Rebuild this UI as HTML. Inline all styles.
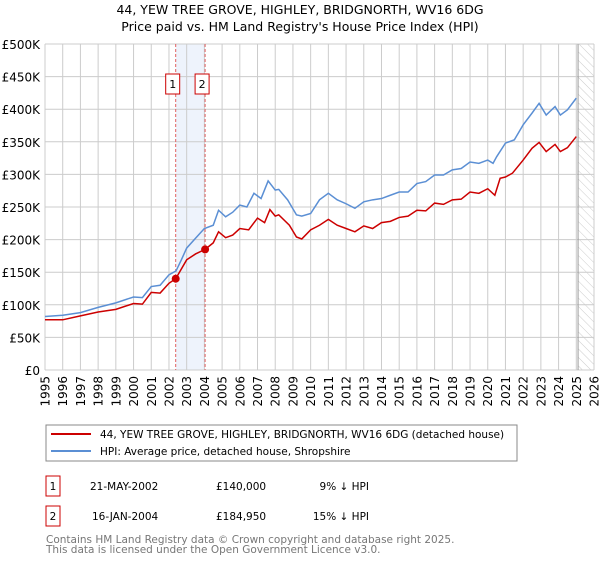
<!DOCTYPE html>
<html><head><meta charset="utf-8"><style>
body{margin:0;background:#fff;font-family:"Liberation Sans","DejaVu Sans",sans-serif;}
svg text{font-family:"DejaVu Sans","Liberation Sans",sans-serif;}
</style></head><body>
<svg id="c" width="600" height="560" viewBox="0 0 600 560">
<defs><pattern id="hatch" width="6" height="6" patternUnits="userSpaceOnUse" patternTransform="rotate(-45)"><line x1="0" y1="0" x2="0" y2="6" stroke="#ccc" stroke-width="1"/></pattern></defs>
<text x="300" y="14" text-anchor="middle" font-size="12.5">44, YEW TREE GROVE, HIGHLEY, BRIDGNORTH, WV16 6DG</text>
<text x="300" y="31" text-anchor="middle" font-size="12.5">Price paid vs. HM Land Registry's House Price Index (HPI)</text>
<g id="grid"></g><g id="marks"></g><g id="axes"></g>
<rect x="46" y="425" width="471" height="36" fill="#fff" stroke="#888"/>
<line x1="51" y1="434" x2="91" y2="434" stroke="#cc0000" stroke-width="2"/>
<text x="100" y="438" font-size="10.5">44, YEW TREE GROVE, HIGHLEY, BRIDGNORTH, WV16 6DG (detached house)</text>
<line x1="51" y1="451" x2="91" y2="451" stroke="#5b8fd4" stroke-width="2"/>
<text x="100" y="455" font-size="10.5">HPI: Average price, detached house, Shropshire</text>
<g font-size="10.5">
<rect x="46" y="476" width="14" height="20" fill="#fff" stroke="#cc0000"/>
<text x="53" y="490" text-anchor="middle">1</text>
<text x="90" y="490">21-MAY-2002</text>
<text x="216" y="490">£140,000</text>
<text x="369" y="490" text-anchor="end">9% ↓ HPI</text>
<rect x="46" y="506" width="14" height="20" fill="#fff" stroke="#cc0000"/>
<text x="53" y="520" text-anchor="middle">2</text>
<text x="92" y="520">16-JAN-2004</text>
<text x="216" y="520">£184,950</text>
<text x="369" y="520" text-anchor="end">15% ↓ HPI</text>
</g>
<text x="46" y="543" font-size="10.5" fill="#777">Contains HM Land Registry data © Crown copyright and database right 2025.</text>
<text x="46" y="553" font-size="10.5" fill="#777">This data is licensed under the Open Government Licence v3.0.</text>
</svg>
<script>
const yTicks=[0,50,100,150,200,250,300,350,400,450,500];
const yLabels=["£0","£50K","£100K","£150K","£200K","£250K","£300K","£350K","£400K","£450K","£500K"];
const years=[1995,1996,1997,1998,1999,2000,2001,2002,2003,2004,2005,2006,2007,2008,2009,2010,2011,2012,2013,2014,2015,2016,2017,2018,2019,2020,2021,2022,2023,2024,2025,2026];
const hpiT=[1995,1996,1997,1998,1999,2000,2000.5,2001,2001.5,2002,2002.4,2002.7,2003,2003.5,2004,2004.5,2004.8,2005.2,2005.6,2006,2006.4,2006.8,2007.2,2007.6,2008,2008.2,2008.7,2009.2,2009.5,2010,2010.5,2011,2011.5,2012,2012.5,2013,2013.5,2014,2014.5,2015,2015.5,2016,2016.5,2017,2017.5,2018,2018.5,2019,2019.5,2020,2020.3,2020.5,2021,2021.5,2022,2022.5,2022.9,2023.3,2023.8,2024.1,2024.5,2025];
const hpiV=[82,84,88,96,103,112,111,128,130,146,152,169,187,202,217,222,245,235,242,253,250,271,263,290,276,277,261,238,236,240,261,271,261,255,248,258,261,263,268,273,273,286,289,299,299,307,309,319,317,322,317,327,348,353,376,394,409,391,404,391,399,417];
const priceT=[1995,1996,1997,1998,1999,2000,2000.5,2001,2001.5,2002,2002.38,2003,2003.5,2004.04,2004.5,2004.8,2005.2,2005.6,2006,2006.5,2007,2007.4,2007.7,2008,2008.2,2008.8,2009.2,2009.5,2010,2010.5,2011,2011.5,2012,2012.5,2013,2013.5,2014,2014.5,2015,2015.5,2016,2016.5,2017,2017.5,2018,2018.5,2019,2019.5,2020,2020.4,2020.7,2021,2021.4,2022,2022.5,2022.9,2023.3,2023.8,2024.1,2024.5,2025];
const priceV=[77,77,83,89,93,102,101,119,118,133,140,169,178,185,195,212,203,207,217,215,233,226,246,236,238,222,204,201,215,222,231,222,217,212,221,217,226,228,234,236,245,244,256,254,261,262,273,271,278,268,294,296,302,322,340,349,335,346,335,341,358];
const saleT=[2002.38,2004.04];
const saleV=[140,184.95];
const saleLbl=["1","2"];
const NS="http://www.w3.org/2000/svg";
const X0=45,X1=594,Y0=370,Y1=44;
const x=t=>X0+(t-1995)/(2026-1995)*(X1-X0);
const y=v=>Y0-v/500*(Y0-Y1);
function mk(tag,attrs,parent){const e=document.createElementNS(NS,tag);for(const k in attrs)e.setAttribute(k,attrs[k]);parent.appendChild(e);return e;}
const grid=document.getElementById('grid'),marks=document.getElementById('marks'),axes=document.getElementById('axes');
const sh=mk('rect',{x:x(saleT[0]),y:Y1,width:x(saleT[1])-x(saleT[0]),height:Y0-Y1,fill:'#eef3fc'},grid);


const ht=mk('rect',{x:x(2025.1),y:Y1,width:X1-x(2025.1),height:Y0-Y1,fill:'url(#hatch)'},grid);


yTicks.forEach((v,i)=>{
  const l=mk('line',{x1:X0,x2:X1,y1:y(v),y2:y(v),stroke:'#ccc','stroke-width':1},grid);
  
  
  const t=mk('text',{x:40,y:y(v)+5,'text-anchor':'end','font-size':12},axes);
  t.textContent=yLabels[i];
  
  
});
years.forEach(yr=>{
  const l=mk('line',{x1:x(yr),x2:x(yr),y1:Y1,y2:Y0,stroke:'#ccc','stroke-width':1},grid);
  
  
  const t=mk('text',{x:0,y:0,'text-anchor':'end','font-size':12,transform:`translate(${x(yr)+4.5},376) rotate(-90)`},axes);
  t.textContent=yr;
  
  
});
const nl=mk('line',{x1:x(2025.1),x2:x(2025.1),y1:Y1,y2:Y0,stroke:'#999','stroke-width':1},grid);


saleT.forEach((t,i)=>{
  const l=mk('line',{x1:x(t),x2:x(t),y1:Y1,y2:Y0,stroke:'#e06060','stroke-width':1,'stroke-dasharray':'3,2'},grid);
  
  
  const r=mk('rect',{x:x(t)-10,y:74,width:14,height:20,fill:'#fff',stroke:'#cc0000'},axes);
  
  
  const tx=mk('text',{x:x(t)-3,y:88,'text-anchor':'middle','font-size':11},axes);
  tx.textContent=saleLbl[i];
  
  
});
const hp=mk('polyline',{points:hpiT.map((t,i)=>x(t)+','+y(hpiV[i])).join(' '),fill:'none',stroke:'#5b8fd4','stroke-width':1.5},marks);


const pp=mk('polyline',{points:priceT.map((t,i)=>x(t)+','+y(priceV[i])).join(' '),fill:'none',stroke:'#cc0000','stroke-width':1.5},marks);


saleT.forEach((t,i)=>{
  const c=mk('circle',{cx:x(t),cy:y(saleV[i]),r:4,fill:'#cc0000'},marks);
  
  
});
</script>
</body></html>
